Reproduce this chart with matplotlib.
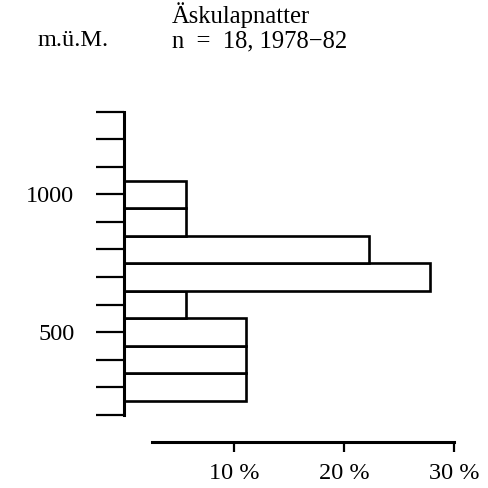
import matplotlib
matplotlib.use("Agg")
import matplotlib.pyplot as plt

# elevation classes (bin centres, m above sea level) and share of records in %
elevation = [300, 400, 500, 600, 700, 800, 900, 1000]
percent = [11.1, 11.1, 11.1, 5.6, 27.8, 22.2, 5.6, 5.6]
y_ticks = list(range(200, 1400, 100))
y_labels = {500: "500", 1000: "1000"}
x_ticks = [10, 20, 30]
x_labels = ["10 %", "20 %", "30 %"]

plt.rcParams["font.family"] = ["Liberation Serif", "DejaVu Serif"]

W, H = 488, 488
fig = plt.figure(figsize=(W / 100, H / 100), dpi=100)
ax = fig.add_axes([124.3 / W, 1 - 414.7 / H, 330 / W, 303 / H])

ax.barh(elevation, percent, height=100, left=0, color="white",
        edgecolor="black", linewidth=1.9)

ax.set_xlim(0, 30)
ax.set_ylim(200, 1300)

for side in ["top", "right"]:
    ax.spines[side].set_visible(False)

ax.spines["left"].set_linewidth(2.2)
ax.spines["left"].set_bounds(200, 1300)
ax.set_yticks(y_ticks)
ax.set_yticklabels([y_labels.get(v, "") for v in y_ticks])
ax.tick_params(axis="y", direction="out", length=20, width=1.6, pad=16,
               labelsize=17.5)

ax.spines["bottom"].set_position(("outward", 20))
ax.spines["bottom"].set_linewidth(2.2)
ax.spines["bottom"].set_bounds(2.5, 30)
ax.set_xticks(x_ticks)
ax.set_xticklabels(x_labels)
ax.tick_params(axis="x", direction="out", length=7, width=1.6, pad=8,
               labelsize=17.5)

fig.text(172 / W, 1 - 15 / H, "Äskulapnatter", fontsize=17.7, va="center")
fig.text(172 / W, 1 - 41 / H, "n  =  18, 1978\u221282", fontsize=17.7,
         va="center")
fig.text(38 / W, 1 - 41 / H, "m.ü.M.", fontsize=17.5, va="center")

fig.savefig("out.png", dpi=100, facecolor="white")
